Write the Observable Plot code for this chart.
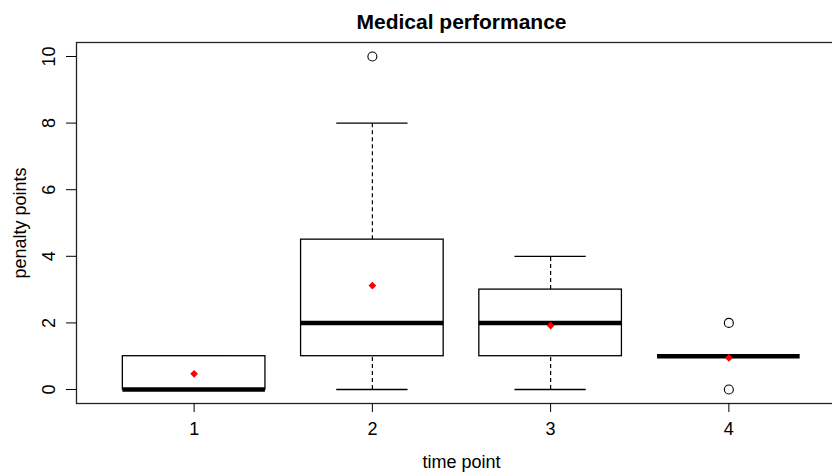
<!DOCTYPE html>
<html>
<head>
<meta charset="utf-8">
<script src="https://cdn.jsdelivr.net/npm/d3@7"></script>
<script src="https://cdn.jsdelivr.net/npm/@observablehq/plot@0.6"></script>
<style>
  html, body { margin: 0; padding: 0; background: white; overflow: hidden; }
  #chart svg { max-width: none !important; display: block; }
</style>
</head>
<body>
<div id="chart"></div>
<script>
// ---- data ----
const titleText = "Medical performance";
const xLabel = "time point";
const yLabel = "penalty points";
const timePoints = [1, 2, 3, 4];
const lowerWhisker = [0, 0, 0, 1];
const q1 = [0, 1, 1, 1];
const median = [0, 2, 2, 1];
const q3 = [1, 4.5, 3, 1];
const upperWhisker = [1, 8, 4, 1];
const means = [0.47, 3.12, 1.92, 0.95];
const outlierTime = [2, 4, 4];
const outlierValue = [10, 0, 2];
const xTicks = [1, 2, 3, 4];
const yTicks = [0, 2, 4, 6, 8, 10];

const boxHalf = 0.4;   // boxwex 0.8
const capHalf = 0.2;   // staplewex 0.5

const boxes = timePoints.map((t, i) => ({
  t, lo: lowerWhisker[i], q1: q1[i], med: median[i], q3: q3[i], hi: upperWhisker[i], mean: means[i]
}));
const outliers = outlierTime.map((t, i) => ({t, v: outlierValue[i]}));

const font = "Liberation Sans, Arial, Helvetica, sans-serif";

const chart = Plot.plot({
  width: 832,
  height: 473,
  marginLeft: 76,
  marginTop: 42,
  marginBottom: 70,
  marginRight: -14,
  style: {fontFamily: font, fontSize: "18px", background: "white", color: "black"},
  x: {type: "linear", domain: [0.34, 4.66]},
  y: {domain: [-0.42, 10.42]},
  marks: [
    Plot.frame({stroke: "#222", strokeWidth: 1.3}),
    // whiskers (dashed)
    Plot.ruleX(boxes, {x: "t", y1: "q3", y2: "hi", stroke: "black", strokeWidth: 1.2, strokeDasharray: "4,3"}),
    Plot.ruleX(boxes, {x: "t", y1: "lo", y2: "q1", stroke: "black", strokeWidth: 1.2, strokeDasharray: "4,3"}),
    // caps
    Plot.ruleY(boxes, {y: "hi", x1: d => d.t - capHalf, x2: d => d.t + capHalf, stroke: "black", strokeWidth: 1.3}),
    Plot.ruleY(boxes, {y: "lo", x1: d => d.t - capHalf, x2: d => d.t + capHalf, stroke: "black", strokeWidth: 1.3}),
    // boxes
    Plot.rect(boxes, {x1: d => d.t - boxHalf, x2: d => d.t + boxHalf, y1: "q1", y2: "q3", fill: "white", stroke: "black", strokeWidth: 1.3}),
    // medians
    Plot.ruleY(boxes, {y: "med", x1: d => d.t - boxHalf, x2: d => d.t + boxHalf, stroke: "black", strokeWidth: 4.5}),
    // outliers
    Plot.dot(outliers, {x: "t", y: "v", r: 4.5, stroke: "black", strokeWidth: 1.1, fill: "none"}),
    // means
    Plot.dot(boxes, {x: "t", y: "mean", symbol: "square", rotate: 45, r: 3.1, fill: "#ff0000", stroke: "none"}),
    // axes
    Plot.axisX({ticks: xTicks, tickSize: 9, tickPadding: 10, fontSize: 18, label: null, stroke: "black", tickFormat: d => String(d)}),
    Plot.axisY({ticks: yTicks, tickSize: 10, tickFormat: () => "", label: null, stroke: "black"}),
    Plot.text(yTicks, {y: d => d, text: d => String(d), frameAnchor: "left", dx: -27, rotate: -90, fontSize: 18, fill: "black", textAnchor: "middle", lineAnchor: "middle"}),
    // titles
    Plot.text([titleText], {frameAnchor: "top", dy: -20, fontSize: 21, fontWeight: "bold", fill: "black", textAnchor: "middle", lineAnchor: "middle"}),
    Plot.text([xLabel], {frameAnchor: "bottom", dy: 59, fontSize: 18, fill: "black", textAnchor: "middle", lineAnchor: "middle"}),
    Plot.text([yLabel], {frameAnchor: "left", dx: -56, rotate: -90, fontSize: 18, fill: "black", textAnchor: "middle", lineAnchor: "middle"})
  ]
});
document.getElementById("chart").appendChild(chart);
</script>
</body>
</html>
